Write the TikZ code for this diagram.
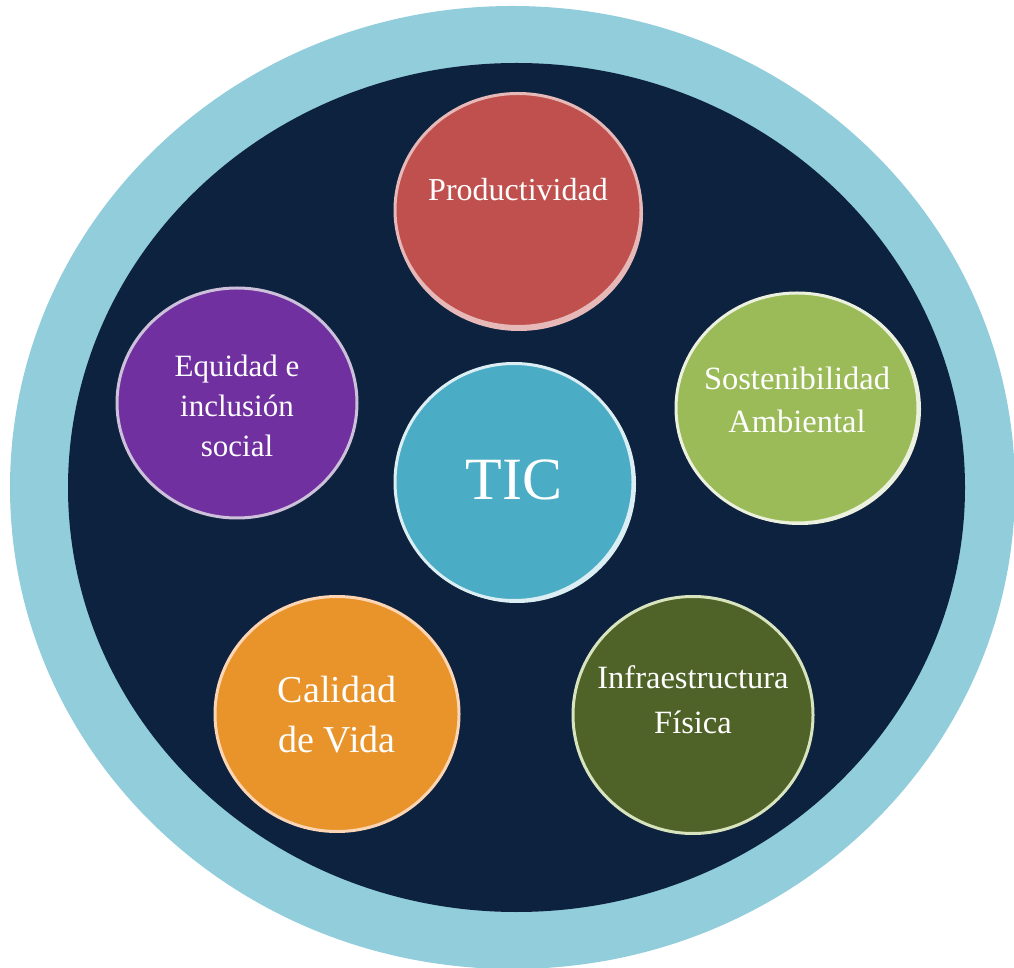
\documentclass[tikz,border=0pt]{standalone}
\usepackage{fontspec}
\setmainfont{Liberation Serif}
\usetikzlibrary{shapes.geometric}

\definecolor{aro}{HTML}{92CDDC}
\definecolor{fondo}{HTML}{0D223E}
\definecolor{rojo}{HTML}{C0504D}
\definecolor{rojoborde}{HTML}{E6B9B8}
\definecolor{morado}{HTML}{7030A0}
\definecolor{moradoborde}{HTML}{CCC0DA}
\definecolor{verde}{HTML}{9BBB59}
\definecolor{verdeborde}{HTML}{EBF1DE}
\definecolor{oliva}{HTML}{4F6228}
\definecolor{olivaborde}{HTML}{D7E4BD}
\definecolor{naranja}{HTML}{E8942A}
\definecolor{naranjaborde}{HTML}{FCD5B4}
\definecolor{celeste}{HTML}{4BACC6}
\definecolor{celesteborde}{HTML}{DAEEF3}

\tikzset{
  eje/.style={draw, ellipse, line width=3pt, inner sep=0pt},
  rotulo/.style={text=white, inner sep=0pt, align=center}
}

\begin{document}
\begin{tikzpicture}[x=1pt,y=1pt]

\useasboundingbox (0,0) rectangle (1014,967);

% AREAS %%%%%%%%%%%%%%%%%%%%%%%%%%%%%%%%%%%%%%%%%%%%%%%%%%%%%%%%%%%%%%%%%%

\fill [color = aro] (512.5,479.5) ellipse [x radius=502.5, y radius=481.5];
\fill [color = fondo] (516.5,479.5) ellipse [x radius=448.5, y radius=424.5];

% reflejos
\fill [color = rojoborde] (519,753) ellipse [x radius=124, y radius=117];
\fill [color = celesteborde] (517,483) ellipse [x radius=119, y radius=119];
\fill [color = verdeborde] (800,558) ellipse [x radius=121, y radius=116];

% NODES %%%%%%%%%%%%%%%%%%%%%%%%%%%%%%%%%%%%%%%%%%%%%%%%%%%%%%%%%%%%%%%%%%

\node[eje, fill=rojo, draw=rojoborde, minimum width=246pt, minimum height=233pt] (prod) at (518,757) {};
\node[rotulo, font=\fontsize{32}{42}\selectfont] (prodtxt) at ([yshift=20pt]prod.center) {Productividad};

\node[eje, fill=morado, draw=moradoborde, minimum width=240pt, minimum height=230pt] (equi) at (237,564) {};
\node[rotulo, font=\fontsize{31}{40}\selectfont] (equitxt) at ([yshift=-3pt]equi.center) {Equidad e\\inclusión\\social};

\node[eje, fill=verde, draw=verdeborde, minimum width=242pt, minimum height=230pt] (sost) at (797,559) {};
\node[rotulo, font=\fontsize{32.5}{43}\selectfont] (sosttxt) at ([yshift=8pt]sost.center) {Sostenibilidad\\Ambiental};

\node[eje, fill=celeste, draw=celesteborde, minimum width=238pt, minimum height=237pt] (tic) at (514,485) {};
\node[rotulo, font=\fontsize{60}{70}\selectfont] (tictxt) at ([yshift=2pt]tic.center) {TIC};

\node[eje, fill=naranja, draw=naranjaborde, minimum width=244pt, minimum height=235pt] (cali) at (337,253) {};
\node[rotulo, font=\fontsize{38}{50}\selectfont] (calitxt) at ([yshift=-1pt]cali.center) {Calidad\\de Vida};

\node[eje, fill=oliva, draw=olivaborde, minimum width=240pt, minimum height=237pt] (infra) at (693,252) {};
\node[rotulo, font=\fontsize{32.5}{45}\selectfont] (infratxt) at ([yshift=15pt]infra.center) {Infraestructura\\Física};

\end{tikzpicture}
\end{document}
